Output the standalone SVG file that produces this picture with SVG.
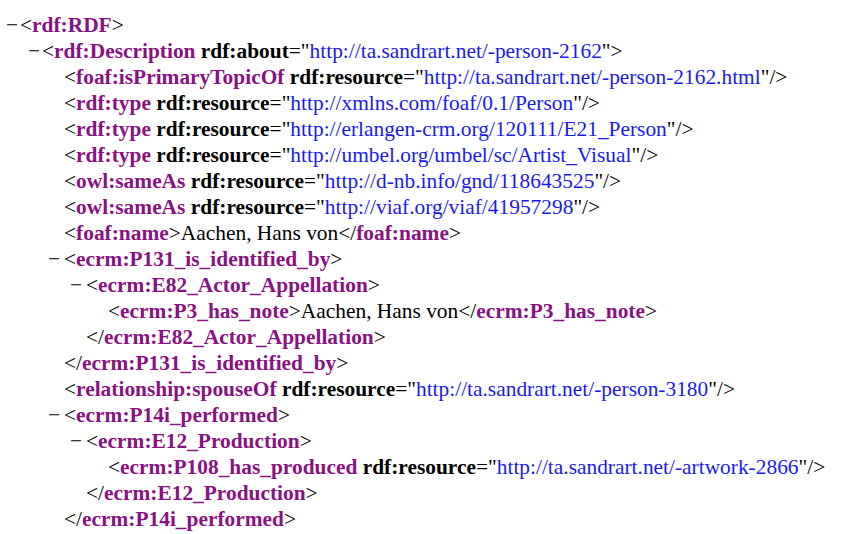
<svg xmlns="http://www.w3.org/2000/svg" width="855" height="534" viewBox="0 0 855 534">
<style>
text{font-family:"Liberation Serif","Times New Roman",serif;font-size:21.4px;fill:#000}
.t{fill:#881280;font-weight:bold}
.a{font-weight:bold}
.v{fill:#1a1aee}
</style>
<rect width="855" height="534" fill="#fff"/>
<g id="tree">
<text x="6" y="32">−</text><text x="20" y="32">&lt;<tspan class="t">rdf:RDF</tspan>&gt;</text>
<text x="28" y="58">−</text><text x="42" y="58">&lt;<tspan class="t">rdf:Description</tspan> <tspan class="a">rdf:about</tspan>="<tspan class="v">http://ta.sandrart.net/-person-2162</tspan>"&gt;</text>
<text x="64" y="84">&lt;<tspan class="t">foaf:isPrimaryTopicOf</tspan> <tspan class="a">rdf:resource</tspan>="<tspan class="v">http://ta.sandrart.net/-person-2162.html</tspan>"/&gt;</text>
<text x="64" y="110">&lt;<tspan class="t">rdf:type</tspan> <tspan class="a">rdf:resource</tspan>="<tspan class="v">http://xmlns.com/foaf/0.1/Person</tspan>"/&gt;</text>
<text x="64" y="136">&lt;<tspan class="t">rdf:type</tspan> <tspan class="a">rdf:resource</tspan>="<tspan class="v">http://erlangen-crm.org/120111/E21_Person</tspan>"/&gt;</text>
<text x="64" y="162">&lt;<tspan class="t">rdf:type</tspan> <tspan class="a">rdf:resource</tspan>="<tspan class="v">http://umbel.org/umbel/sc/Artist_Visual</tspan>"/&gt;</text>
<text x="64" y="188">&lt;<tspan class="t">owl:sameAs</tspan> <tspan class="a">rdf:resource</tspan>="<tspan class="v">http://d-nb.info/gnd/118643525</tspan>"/&gt;</text>
<text x="64" y="214">&lt;<tspan class="t">owl:sameAs</tspan> <tspan class="a">rdf:resource</tspan>="<tspan class="v">http://viaf.org/viaf/41957298</tspan>"/&gt;</text>
<text x="64" y="240">&lt;<tspan class="t">foaf:name</tspan>&gt;Aachen, Hans von&lt;/<tspan class="t">foaf:name</tspan>&gt;</text>
<text x="48" y="266">−</text><text x="64" y="266">&lt;<tspan class="t">ecrm:P131_is_identified_by</tspan>&gt;</text>
<text x="70" y="292">−</text><text x="86" y="292">&lt;<tspan class="t">ecrm:E82_Actor_Appellation</tspan>&gt;</text>
<text x="108" y="318">&lt;<tspan class="t">ecrm:P3_has_note</tspan>&gt;Aachen, Hans von&lt;/<tspan class="t">ecrm:P3_has_note</tspan>&gt;</text>
<text x="86" y="344">&lt;/<tspan class="t">ecrm:E82_Actor_Appellation</tspan>&gt;</text>
<text x="64" y="370">&lt;/<tspan class="t">ecrm:P131_is_identified_by</tspan>&gt;</text>
<text x="64" y="396">&lt;<tspan class="t">relationship:spouseOf</tspan> <tspan class="a">rdf:resource</tspan>="<tspan class="v">http://ta.sandrart.net/-person-3180</tspan>"/&gt;</text>
<text x="48" y="422">−</text><text x="64" y="422">&lt;<tspan class="t">ecrm:P14i_performed</tspan>&gt;</text>
<text x="70" y="448">−</text><text x="86" y="448">&lt;<tspan class="t">ecrm:E12_Production</tspan>&gt;</text>
<text x="108" y="474">&lt;<tspan class="t">ecrm:P108_has_produced</tspan> <tspan class="a">rdf:resource</tspan>="<tspan class="v">http://ta.sandrart.net/-artwork-2866</tspan>"/&gt;</text>
<text x="86" y="500">&lt;/<tspan class="t">ecrm:E12_Production</tspan>&gt;</text>
<text x="64" y="526">&lt;/<tspan class="t">ecrm:P14i_performed</tspan>&gt;</text>
</g>
</svg>
